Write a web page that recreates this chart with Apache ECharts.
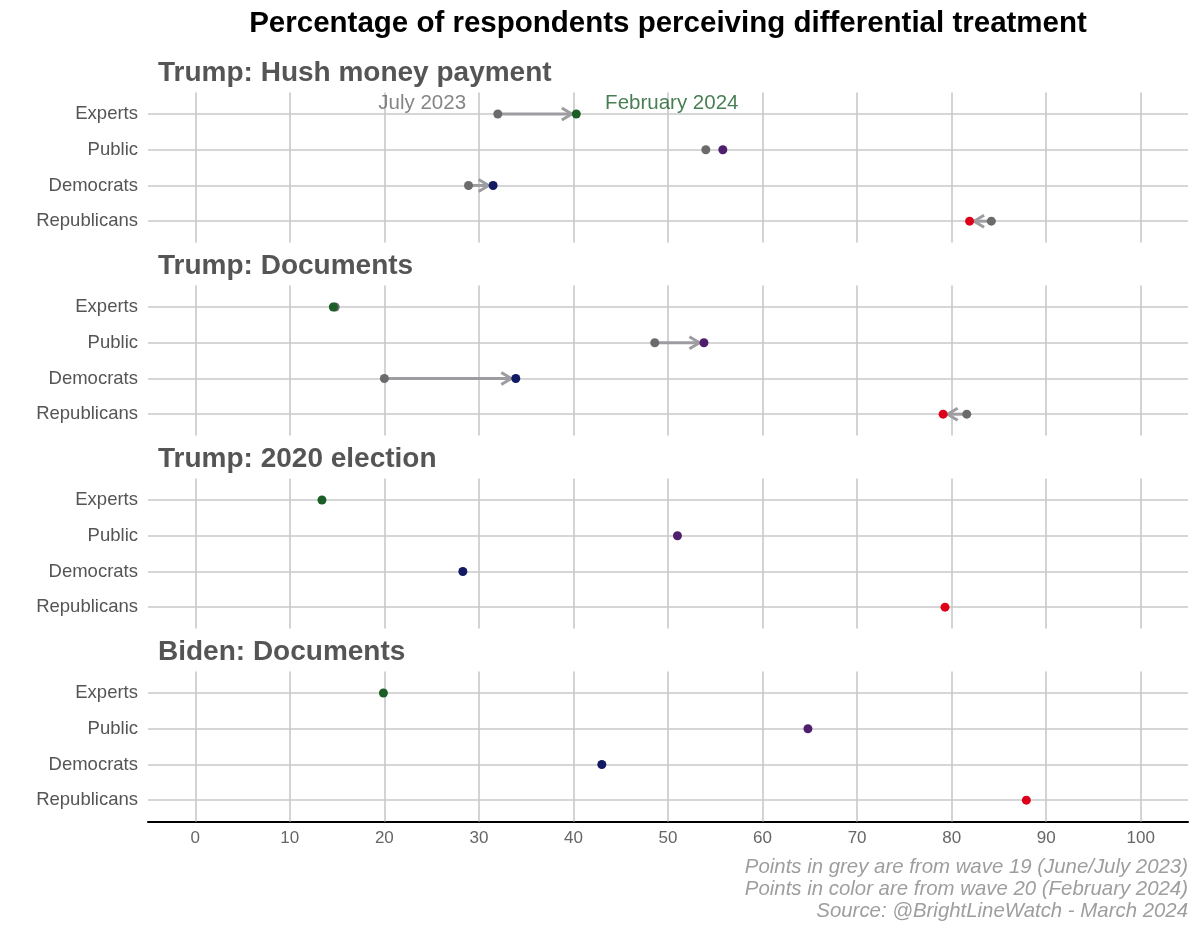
<!DOCTYPE html>
<html>
<head>
<meta charset="utf-8">
<script src="https://cdn.jsdelivr.net/npm/echarts@6/dist/echarts.min.js"></script>
<style>
html,body{margin:0;padding:0;background:#fff;}
#chart{width:1200px;height:933px;}
</style>
</head>
<body>
<div id="chart"></div>
<script>
// ---------- data ----------
const categories = ['Experts', 'Public', 'Democrats', 'Republicans'];
const panelTitles = ['Trump: Hush money payment', 'Trump: Documents', 'Trump: 2020 election', 'Biden: Documents'];
// wave 19 (June/July 2023) — grey points (null = not asked)
const wave19 = [
  [32.0, 54.0, 28.9, 84.2],
  [14.8, 48.6, 20.0, 81.6],
  [null, null, null, null],
  [null, null, null, null]
];
// wave 20 (February 2024) — coloured points
const wave20 = [
  [40.3, 55.8, 31.5, 81.9],
  [14.6, 53.8, 33.9, 79.1],
  [13.4, 51.0, 28.3, 79.3],
  [19.9, 64.8, 43.0, 87.9]
];
// whether an arrow is drawn from wave 19 to wave 20
const arrowShown = [
  [1, 0, 1, 1],
  [0, 1, 1, 1],
  [0, 0, 0, 0],
  [0, 0, 0, 0]
];
const xTicks = [0, 10, 20, 30, 40, 50, 60, 70, 80, 90, 100];
const waveLabels = ['July 2023', 'February 2024'];
const waveLabelX = [24.0, 50.4];
const captionLines = [
  'Points in grey are from wave 19 (June/July 2023)',
  'Points in color are from wave 20 (February 2024)',
  'Source: @BrightLineWatch - March 2024'
];

// ---------- styles ----------
const FONT = 'Liberation Sans, Arial, Helvetica, sans-serif';
const groupColors = ['#1b5e27', '#4f1f6e', '#121a63', '#dd0018'];
const greyPoint = '#6b6b6b';
const arrowColor = '#9d9da1';
const gridColor = '#c8c8c8';
const gridLeft = 148, gridRight = 12, gridH = 150;
const gridTops = [92.6, 285.6, 478.6, 671.6];

const chart = echarts.init(document.getElementById('chart'), null, {renderer: 'canvas'});

const grids = [], xAxes = [], yAxes = [], series = [], titles = [];

titles.push({
  text: 'Percentage of respondents perceiving differential treatment',
  left: 668, top: 9, textAlign: 'center', padding: 0,
  textStyle: {fontFamily: FONT, fontSize: 29.5, fontWeight: 'bold', color: '#000'}
});

panelTitles.forEach((t, p) => {
  grids.push({left: gridLeft, right: gridRight, top: gridTops[p], height: gridH, containLabel: false});
  titles.push({
    text: t, left: 158, top: gridTops[p] - 33.5, padding: 0,
    textStyle: {fontFamily: FONT, fontSize: 28, fontWeight: 'bold', color: '#555555'}
  });
  const last = p === panelTitles.length - 1;
  xAxes.push({
    type: 'value', gridIndex: p, min: -5, max: 105,
    splitLine: {show: false},
    axisLine: {show: last, onZero: false, lineStyle: {color: '#000', width: 2}},
    axisTick: {show: true, inside: true, length: gridH, customValues: xTicks,
               lineStyle: {color: gridColor, width: 1.6}},
    axisLabel: {show: last, customValues: xTicks, margin: 8,
                fontFamily: FONT, fontSize: 17, color: '#666'}
  });
  yAxes.push({
    type: 'value', gridIndex: p, min: 0.4, max: 4.6, inverse: true,
    splitLine: {show: false},
    axisLine: {show: false, onZero: false},
    axisTick: {show: true, inside: true, length: 1200 - gridLeft - gridRight,
               customValues: [1, 2, 3, 4], lineStyle: {color: gridColor, width: 1.6}},
    axisLabel: {show: true, customValues: [1, 2, 3, 4], margin: 10,
                fontFamily: FONT, fontSize: 18.5, color: '#555',
                formatter: v => categories[Math.round(v) - 1] || ''}
  });

  // arrows
  const arrowData = [];
  categories.forEach((c, i) => {
    if (arrowShown[p][i] && wave19[p][i] != null) arrowData.push([wave19[p][i], wave20[p][i], i + 1]);
  });
  series.push({
    type: 'custom', xAxisIndex: p, yAxisIndex: p, z: 2,
    encode: {x: [0, 1], y: 2},
    data: arrowData,
    renderItem: function (params, api) {
      const s = api.coord([api.value(0), api.value(2)]);
      const e = api.coord([api.value(1), api.value(2)]);
      const dir = e[0] >= s[0] ? 1 : -1;
      const tipX = e[0] - dir * 4.5;
      const y = s[1];
      const L = 10, H = 6;
      return {
        type: 'group',
        children: [
          {type: 'line', shape: {x1: s[0], y1: y, x2: tipX, y2: y},
           style: {stroke: arrowColor, lineWidth: 3}},
          {type: 'polyline', shape: {points: [[tipX - dir * L, y - H], [tipX, y], [tipX - dir * L, y + H]]},
           style: {stroke: arrowColor, lineWidth: 3, fill: null, lineJoin: 'miter'}}
        ]
      };
    }
  });
  // grey wave 19 points
  const greyData = [];
  categories.forEach((c, i) => { if (wave19[p][i] != null) greyData.push([wave19[p][i], i + 1]); });
  series.push({
    type: 'scatter', xAxisIndex: p, yAxisIndex: p, z: 3,
    symbolSize: 9, itemStyle: {color: greyPoint, opacity: 1},
    data: greyData, silent: true
  });
  // coloured wave 20 points
  series.push({
    type: 'scatter', xAxisIndex: p, yAxisIndex: p, z: 4,
    symbolSize: 9,
    data: categories.map((c, i) => ({value: [wave20[p][i], i + 1], itemStyle: {color: groupColors[i], opacity: 1}})),
    silent: true
  });
});

// wave labels in first panel
series.push({
  type: 'scatter', xAxisIndex: 0, yAxisIndex: 0, z: 5, symbolSize: 0, silent: true,
  data: waveLabels.map((t, k) => ({
    value: [waveLabelX[k], 0.7],
    label: {show: true, position: 'inside', formatter: t, fontFamily: FONT, fontSize: 20.5,
            color: k === 0 ? '#666666' : '#1a5e28'}
  }))
});

const option = {
  backgroundColor: '#fff',
  animation: false,
  title: titles,
  grid: grids,
  xAxis: xAxes,
  yAxis: yAxes,
  series: series,
  graphic: [{
    type: 'text', x: 1188, y: 856,
    style: {text: captionLines.join('\n'), fontFamily: FONT, fontSize: 20.4, fontStyle: 'italic',
            fill: '#9e9e9e', align: 'right', verticalAlign: 'top', lineHeight: 22}
  }]
};
chart.setOption(option);
</script>
</body>
</html>
